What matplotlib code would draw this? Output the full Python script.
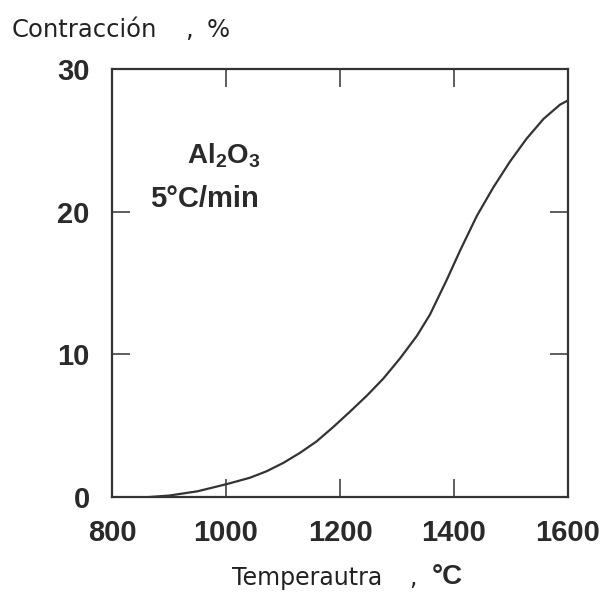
import matplotlib.pyplot as plt

# shrinkage curve
temp = [866, 900, 950, 1001, 1042, 1071, 1101, 1130, 1159, 1188, 1218, 1247,
        1276, 1305, 1335, 1358, 1387, 1411, 1440, 1469, 1498, 1527, 1557,
        1586, 1600]
contr = [0.0, 0.1, 0.4, 0.9, 1.35, 1.8, 2.4, 3.1, 3.9, 4.9, 6.0, 7.1,
         8.3, 9.7, 11.3, 12.8, 15.2, 17.3, 19.7, 21.7, 23.5, 25.1, 26.5,
         27.5, 27.8]

xticks = [800, 1000, 1200, 1400, 1600]
yticks = [0, 10, 20, 30]

col = '#333333'
txt = '#2a2a2a'
plt.rcParams['font.family'] = ['Liberation Sans', 'DejaVu Sans']
plt.rcParams['mathtext.fontset'] = 'custom'
plt.rcParams['mathtext.bf'] = 'Liberation Sans:bold'
plt.rcParams['mathtext.rm'] = 'Liberation Sans'

fig = plt.figure(figsize=(6.04, 5.99), dpi=100)
ax = fig.add_axes([112/604, 1 - 497/599, 456/604, 428/599])

ax.plot(temp, contr, color=col, lw=1.6, solid_joinstyle='round')

ax.set_xlim(800, 1600)
ax.set_ylim(0, 30)
ax.set_xticks(xticks)
ax.set_yticks(yticks)
ax.tick_params(direction='in', length=13, width=1.1, color=col,
               top=True, right=True, labelsize=21, labelcolor=txt)
ax.tick_params(axis='x', pad=16)
ax.tick_params(axis='y', pad=16)
for lab in ax.get_xticklabels() + ax.get_yticklabels():
    lab.set_fontweight('bold')
for s in ax.spines.values():
    s.set_linewidth(1.6)
    s.set_color(col)

ax.text(0.164, 0.780, r'$\mathbf{Al_2O_3}$', transform=ax.transAxes,
        fontsize=20, color=txt, ha='left', va='baseline')
ax.text(0.083, 0.678, '5°C/min', transform=ax.transAxes,
        fontsize=21, fontweight='bold', color=txt, ha='left', va='baseline')

fig.text(12/604, 1 - 30/599, 'Contracción', fontsize=17.5, family='DejaVu Sans',
         color='#222222', va='center', ha='left')
fig.text(185/604, 1 - 30/599, ',', fontsize=17.5, family='DejaVu Sans',
         color='#222222', va='center', ha='left')
fig.text(207/604, 1 - 30/599, '%', fontsize=17.5, family='DejaVu Sans',
         color='#222222', va='center', ha='left')
fig.text(232/604, 1 - 578/599, 'Temperautra', fontsize=17, family='DejaVu Sans',
         color='#222222', va='center', ha='left')
fig.text(409/604, 1 - 578/599, ',', fontsize=17, family='DejaVu Sans',
         color='#222222', va='center', ha='left')
fig.text(432/604, 1 - 577/599, '°C', fontsize=20, fontweight='bold',
         color=txt, va='center', ha='left')

fig.savefig('out.png', dpi=100)
